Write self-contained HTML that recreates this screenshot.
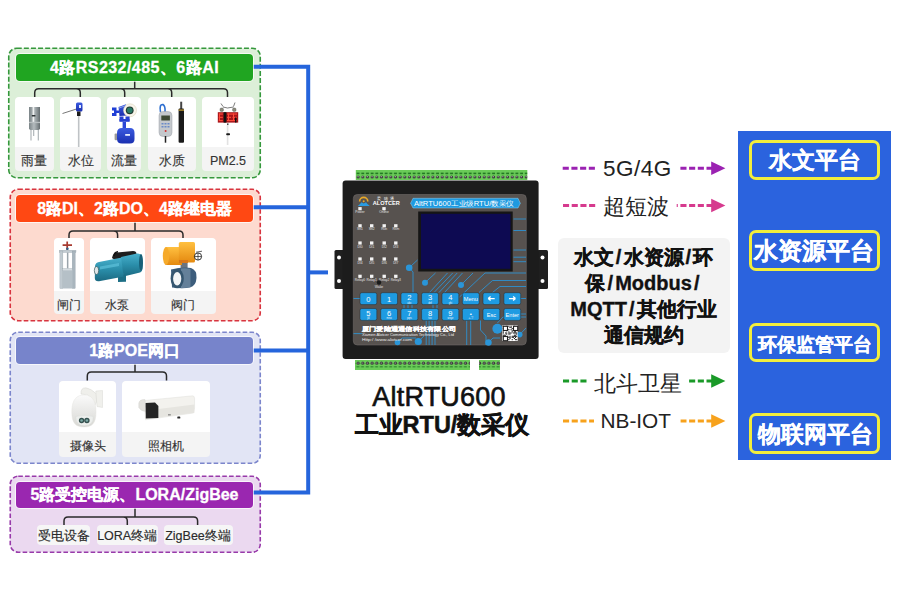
<!DOCTYPE html>
<html><head><meta charset="utf-8">
<style>
*{box-sizing:border-box}
html,body{margin:0;padding:0}
body{width:900px;height:600px;position:relative;overflow:hidden;background:#fff;font-family:"Liberation Sans",sans-serif}
.a{position:absolute}
.hd{position:absolute;left:16px;width:237px;height:27px;border-radius:4px;color:#fff;font-weight:bold;font-size:16px;text-align:center;line-height:27px;box-shadow:0 0 0 1px rgba(255,255,255,.7);white-space:nowrap;-webkit-text-stroke:0.3px #fff}
.card{position:absolute;background:#f4f4f4;border-radius:4px;overflow:hidden}
.card .im{position:absolute;left:0;right:0;top:0;background:#fff;border-radius:4px 4px 0 0}
.card .lb{position:absolute;left:0;right:0;bottom:0;text-align:center;color:#333;font-size:12.5px;white-space:nowrap;-webkit-text-stroke:0.15px #333}
.pill{position:absolute;background:#f6f6f6;border-radius:4px;color:#2a2a2a;font-size:12.5px;text-align:center;line-height:22px;height:20.5px;top:524.8px;white-space:nowrap;-webkit-text-stroke:0.15px #2a2a2a}
.sl{margin:0 2.1px}
.arr{position:absolute;font-size:21px;color:#222;white-space:nowrap}
.plat{position:absolute;left:748.5px;width:131.5px;border:3.2px solid #f2ee3c;border-radius:7px;color:#fff;font-weight:bold;text-align:center;white-space:nowrap;-webkit-text-stroke:0.25px #fff}
</style></head>
<body>
<svg class="a" style="left:0;top:0" width="900" height="600">
  <!-- dashed containers -->
  <rect x="8.75" y="48.25" width="251.5" height="129.5" rx="8" fill="#dcefd8" stroke="#35983c" stroke-width="1.6" stroke-dasharray="5 2.1"/>
  <rect x="10.25" y="189.25" width="250" height="131.5" rx="8" fill="#fddacf" stroke="#d8343f" stroke-width="1.6" stroke-dasharray="4.6 2.2"/>
  <rect x="10.25" y="332.25" width="250" height="131" rx="8" fill="#e2e5f5" stroke="#7c86cc" stroke-width="1.6" stroke-dasharray="4.6 2.2"/>
  <rect x="10.25" y="476.25" width="250" height="76" rx="8" fill="#ebd9f0" stroke="#983aaa" stroke-width="1.6" stroke-dasharray="4.6 2.2"/>
  <!-- trees -->
  <g fill="none" stroke="#2a2a2a" stroke-width="1.5">
    <path d="M134.7 81.0 V88.7 M34.7 97.0 V92.7 Q34.7 88.7 38.7 88.7 H223.5 Q227.5 88.7 227.5 92.7 V97.0 M76.3 88.7 Q80.3 88.7 80.3 92.7 V97.0 M120.7 88.7 Q124.7 88.7 124.7 92.7 V97.0 M167.7 88.7 Q171.7 88.7 171.7 92.7 V97.0"/>
    <path d="M135.0 222.0 V231.0 M69.0 238.0 V235.0 Q69.0 231.0 73.0 231.0 H179.0 Q183.0 231.0 183.0 235.0 V238.0 M113.6 231.0 Q117.6 231.0 117.6 235.0 V238.0"/>
    <path d="M135.0 364.0 V372.0 M87.3 380.5 V376.0 Q87.3 372.0 91.3 372.0 H162.5 Q166.5 372.0 166.5 376.0 V380.5"/>
    <path d="M135.0 508.0 V517.0 M64.0 525.0 V521.0 Q64.0 517.0 68.0 517.0 H193.6 Q197.6 517.0 197.6 521.0 V525.0 M123.3 517.0 Q127.3 517.0 127.3 521.0 V525.0"/>
  </g>
  <!-- blue connector -->
  <g fill="none" stroke="#2565dc" stroke-width="4">
    <path d="M253 66.7 H308.2 V492.5 H253"/>
    <path d="M253 207.3 H308.2"/>
    <path d="M253 350.5 H308.2"/>
    <path d="M308.2 272.4 H328"/>
  </g>
</svg>

<!-- headers -->
<div class="hd" style="top:54px;background:#20a521;letter-spacing:0.45px">4路RS232/485、6路AI</div>
<div class="hd" style="top:195px;background:#ff4813">8路DI、2路DO、4路继电器</div>
<div class="hd" style="top:337px;background:#7784cb">1路POE网口</div>
<div class="hd" style="top:482px;height:26px;line-height:26px;background:#9a27b0">5路受控电源、LORA/ZigBee</div>

<!-- green cards -->
<div class="card" style="left:15px;top:97px;width:38.5px;height:74px"><div class="im" style="height:50px"></div><div class="lb" style="height:24px;line-height:29px">雨量</div></div>
<div class="card" style="left:60px;top:97px;width:41px;height:74px"><div class="im" style="height:50px"></div><div class="lb" style="height:24px;line-height:29px">水位</div></div>
<div class="card" style="left:107px;top:97px;width:34px;height:74px"><div class="im" style="height:50px"></div><div class="lb" style="height:24px;line-height:29px">流量</div></div>
<div class="card" style="left:147.5px;top:97px;width:48.5px;height:74px"><div class="im" style="height:50px"></div><div class="lb" style="height:24px;line-height:29px">水质</div></div>
<div class="card" style="left:202px;top:97px;width:52px;height:74px"><div class="im" style="height:50px"></div><div class="lb" style="height:24px;line-height:29px">PM2.5</div></div>

<!-- red cards -->
<div class="card" style="left:54px;top:238px;width:30px;height:76px"><div class="im" style="height:52.5px"></div><div class="lb" style="height:23.5px;line-height:28px;font-size:11.8px">闸门</div></div>
<div class="card" style="left:89.5px;top:238px;width:55.5px;height:76px"><div class="im" style="height:52.5px"></div><div class="lb" style="height:23.5px;line-height:28px;font-size:11.8px">水泵</div></div>
<div class="card" style="left:151px;top:238px;width:64.5px;height:76px"><div class="im" style="height:52.5px"></div><div class="lb" style="height:23.5px;line-height:28px;font-size:11.8px">阀门</div></div>

<!-- lavender cards -->
<div class="card" style="left:59px;top:380.5px;width:57px;height:76.5px"><div class="im" style="height:51.5px"></div><div class="lb" style="height:25px;line-height:29px;font-size:11.5px">摄像头</div></div>
<div class="card" style="left:122px;top:380.5px;width:88px;height:76.5px"><div class="im" style="height:51.5px"></div><div class="lb" style="height:25px;line-height:29px;font-size:11.5px">照相机</div></div>

<!-- purple pills -->
<div class="pill" style="left:37px;width:53.2px">受电设备</div>
<div class="pill" style="left:96.5px;width:61.4px">LORA终端</div>
<div class="pill" style="left:163.5px;width:69px">ZigBee终端</div>

<!-- products -->
<svg class="a" style="left:0;top:0" width="900" height="600" viewBox="0 0 900 600">
<defs>
<linearGradient id="gmetal" x1="0" x2="1" y1="0" y2="0"><stop offset="0" stop-color="#8c9396"/><stop offset="0.35" stop-color="#d9dde0"/><stop offset="0.7" stop-color="#9aa1a5"/><stop offset="1" stop-color="#6f7679"/></linearGradient>
<linearGradient id="gblue" x1="0" x2="0" y1="0" y2="1"><stop offset="0" stop-color="#3b5be0"/><stop offset="1" stop-color="#1a2fb0"/></linearGradient>
<linearGradient id="gteal" x1="0" x2="0" y1="0" y2="1"><stop offset="0" stop-color="#3aa0c0"/><stop offset="1" stop-color="#14607e"/></linearGradient>
<linearGradient id="gorange" x1="0" x2="0" y1="0" y2="1"><stop offset="0" stop-color="#ffc040"/><stop offset="1" stop-color="#e58a10"/></linearGradient>
<linearGradient id="gwhite" x1="0" x2="0" y1="0" y2="1"><stop offset="0" stop-color="#fafafa"/><stop offset="1" stop-color="#d8d8d4"/></linearGradient>
</defs>
<!-- rain gauge -->
<linearGradient id="grain" x1="0" x2="1" y1="0" y2="0"><stop offset="0" stop-color="#7a8386"/><stop offset="0.45" stop-color="#b4bbbe"/><stop offset="0.75" stop-color="#8a9295"/><stop offset="1" stop-color="#646c6f"/></linearGradient>
<path d="M31 140.5 V128 M33.7 136 V128 M38.3 140.5 V128" stroke="#a9b0b3" stroke-width="1.1"/>
<path d="M29 107 H40 V128.5 Q39.5 130 38 130 H31 Q29.5 130 29 128.5 Z" fill="url(#grain)"/>
<rect x="32.6" y="107" width="1.6" height="15.5" fill="#eef0f0"/>
<rect x="31.8" y="115" width="3.6" height="1.5" fill="#2e3436"/>
<rect x="29" y="121.8" width="11" height="1.3" fill="#b9bfc1"/>
<!-- water level -->
<path d="M62.5 113.5 L76.5 109" stroke="#777" stroke-width="1"/>
<rect x="76" y="102.5" width="6.5" height="9" rx="1.5" fill="url(#gblue)"/>
<rect x="79" y="105" width="2" height="3" fill="#e0e8ff"/>
<rect x="77" y="111.5" width="3.5" height="4.5" fill="#1c1c1c"/>
<rect x="77.9" y="116" width="1.6" height="31" fill="#bfc3c6"/>
<!-- flow meter -->
<path d="M112 107.5 H116.5 V110.5 H119 V113 H116.5 V116 H112 V113 H114 V110.5 H112 Z" fill="#1f3fd6"/>
<path d="M118.5 107 L126 104.2 L128 115.5 L119.5 116 Z" fill="url(#gblue)"/>
<path d="M119 108 L126 105.5" stroke="#9fb2f0" stroke-width="0.8"/>
<circle cx="130" cy="110.3" r="6.5" fill="#f7f4ea" stroke="#d8cfb0" stroke-width="0.5"/>
<circle cx="129.7" cy="110.3" r="3.9" fill="#213a30"/><circle cx="129.7" cy="110.3" r="2.8" fill="#2a7a66"/>
<path d="M119.5 116.5 H123.5 V121.5 H119.5 Z M125.5 116.5 H129.6 V121.5 H125.5 Z" fill="#2540d0"/>
<rect x="119.5" y="119" width="10" height="2.6" fill="#2540d0"/>
<rect x="122.6" y="121.5" width="3.4" height="7" fill="#2a46d8"/>
<rect x="114.6" y="133.6" width="2.8" height="6.6" rx="1" fill="#9a9a9a"/>
<path d="M117 133 Q117 128 122 128 H130 Q134.5 128 134.5 133 V139 Q134.5 143.6 130 143.6 H122 Q117 143.6 117 139 Z" fill="url(#gblue)"/>
<rect x="125.2" y="134" width="4.8" height="1.8" fill="#e8eeff"/>
<!-- water quality -->
<path d="M160.5 112 Q159 104 163 104.5 Q165.5 106 165 112" fill="none" stroke="#2e6fd0" stroke-width="1.6"/>
<rect x="159" y="111.5" width="13" height="25" rx="4" fill="#c4c8cc" stroke="#9ea3a8" stroke-width="0.5"/>
<rect x="161.3" y="115.5" width="8.6" height="5" fill="#3e4a34"/>
<g fill="#6a8ac8"><rect x="161.5" y="123" width="2" height="1.5"/><rect x="164.5" y="123" width="2" height="1.5"/><rect x="167.5" y="123" width="2" height="1.5"/><rect x="161.5" y="126" width="2" height="1.5"/><rect x="164.5" y="126" width="2" height="1.5"/><rect x="167.5" y="126" width="2" height="1.5"/></g>
<circle cx="165.6" cy="131" r="1" fill="#d03030"/>
<path d="M165.5 136 V142.7" stroke="#222" stroke-width="1.5"/>
<path d="M181.2 101.7 V109" stroke="#444" stroke-width="2"/>
<rect x="178.6" y="108.5" width="5.4" height="34.2" rx="1" fill="#1a1a1a"/>
<rect x="178.6" y="109.5" width="5.4" height="1.2" fill="#c9a030"/>
<!-- pm2.5 -->
<path d="M221 103.5 L223 106.5 M235 102.5 L233.5 106.5 M223 107 L227.5 108 L233.5 107" fill="none" stroke="#444" stroke-width="0.7"/>
<rect x="220" y="108" width="3.4" height="3.4" rx="1.2" fill="#8c8c7c" stroke="#555" stroke-width="0.4"/>
<rect x="232.6" y="108" width="3.4" height="3.4" rx="1.2" fill="#8c8c7c" stroke="#555" stroke-width="0.4"/>
<rect x="217.8" y="112.2" width="20.4" height="10.4" fill="#a8141a"/>
<g fill="#ff4a3a"><rect x="218.8" y="113.5" width="4" height="1.1"/><rect x="218.8" y="116.8" width="4" height="1.1"/><rect x="218.8" y="120" width="4" height="1.1"/><rect x="227" y="113.5" width="10" height="1.1"/><rect x="227" y="116.8" width="4" height="1.1"/><rect x="232.5" y="116.8" width="4.5" height="1.1"/><rect x="227" y="120" width="10" height="1.1"/><rect x="219" y="113.5" width="1" height="7.5"/><rect x="228" y="113.5" width="1" height="7.5"/><rect x="233" y="113.5" width="1" height="7.5"/></g>
<rect x="223.6" y="112.2" width="2.8" height="10.4" fill="#111"/>
<rect x="235" y="117.5" width="1.5" height="5" fill="#111"/>
<rect x="227" y="123.5" width="1.5" height="1.3" fill="#222"/>
<rect x="226.8" y="125" width="1.6" height="20" fill="#e2e2e2"/>
<rect x="226.2" y="133.3" width="3.8" height="1.9" rx="0.8" fill="#1a1a1a"/>
<!-- gate -->
<path d="M62.6 245.2 H72 M67.2 241.6 V250" stroke="#a83a30" stroke-width="1.7"/>
<circle cx="67.4" cy="248.8" r="1.3" fill="#2f5f8a"/>
<rect x="59.4" y="250.2" width="16.6" height="2.3" fill="#c3ccd2" stroke="#8d99a1" stroke-width="0.3"/>
<rect x="59.9" y="251" width="3" height="37.5" fill="#c0cad0" stroke="#8d99a1" stroke-width="0.3"/>
<rect x="72.2" y="251" width="3" height="37.5" fill="#a9b5bd" stroke="#8d99a1" stroke-width="0.3"/>
<rect x="66.9" y="252.5" width="1.5" height="16" fill="#9aa4ab"/>
<rect x="62.5" y="268.5" width="9.9" height="2" fill="#d6dde1" stroke="#8d99a1" stroke-width="0.3"/>
<rect x="62.5" y="270.5" width="9.9" height="18" fill="#b5c0c7"/>
<!-- pump -->
<linearGradient id="gpump" x1="0" x2="0" y1="0" y2="1"><stop offset="0" stop-color="#48b0cc"/><stop offset="0.5" stop-color="#2a8eaa"/><stop offset="1" stop-color="#1b6a82"/></linearGradient>
<path d="M112 258 Q113 252.5 117 252.5 L133 251 Q136.5 251 136.5 254 V259 L118 262 Z" fill="#1e1e1e"/>
<path d="M114 256 Q114.5 252 118 251.8" fill="none" stroke="#111" stroke-width="1.6"/>
<path d="M118 275.5 L126 274 V281.8 L118 282 Z" fill="#1d6f86"/>
<path d="M95 266 Q95.5 262.5 99 262 L122 257.5 L124 276.5 L99 281.2 Q95 281.7 94.8 278 Z" fill="url(#gpump)"/>
<path d="M121 257 L137 253.5 Q142 253 142.3 258 L142.5 268 Q142.5 272 139 272.8 L123.5 276.5 Z" fill="url(#gpump)"/>
<ellipse cx="141" cy="262.5" rx="2" ry="8.5" fill="#176078"/>
<path d="M100 266.5 L119 263 V266 L100 269.5 Z" fill="#5cc0da" opacity="0.7"/>
<ellipse cx="96.5" cy="270.5" rx="2.2" ry="4" fill="#dfe6e8" stroke="#244" stroke-width="0.6"/>
<!-- valve -->
<rect x="180.6" y="261" width="7" height="7" fill="#6a7480"/>
<path d="M171 269.5 Q183 266.5 191 268 Q197 270 196.5 278 Q196 286 190 287.5 Q183 289 172 287.5 Z" fill="#3c5d7c"/>
<path d="M181 268.5 Q187 268 190.5 269 V287 Q187 288 181 288.3 Z" fill="#7f98ad" opacity="0.6"/>
<ellipse cx="177.2" cy="278.5" rx="6.6" ry="9.8" fill="#35566f"/>
<ellipse cx="177.2" cy="278.8" rx="4.1" ry="6.8" fill="#f3f5f6"/>
<rect x="165.5" y="247" width="16.5" height="18" fill="url(#gorange)"/>
<ellipse cx="166" cy="256" rx="3.2" ry="9" fill="#f6aa2a"/>
<rect x="178.8" y="242" width="16.2" height="20.5" rx="1.5" fill="url(#gorange)"/>
<rect x="179" y="260" width="9" height="3" fill="#d8781a"/>
<circle cx="198" cy="256.5" r="3.6" fill="none" stroke="#222" stroke-width="0.9"/>
<path d="M194.5 256.5 H201.5 M198 253 V260 M196 252.2 L202 251.2" stroke="#222" stroke-width="0.7"/>
<!-- dome camera -->
<path d="M81 394 Q80.5 387.5 86 387.8 Q91 388.5 96.5 394 L97 401 L95 405 L90 397 Q87 393 85 394.5 Z" fill="#efefeb" stroke="#d0d0cb" stroke-width="0.4"/>
<path d="M95.8 391 L102.5 390.5 V407.5 L97 406.5 Z" fill="#f0f0ec" stroke="#d2d2cd" stroke-width="0.4"/>
<path d="M71.8 412 C71.8 399 77 395 84 395 C91 395 96 399 96 412 C96 424 91.5 427 84 427 C76.5 427 71.8 424 71.8 412Z" fill="url(#gwhite)" stroke="#e0e0dc" stroke-width="0.4"/>
<path d="M75.8 416.5 Q84 414 93.3 416.5 Q93.5 425.8 84.5 425.8 Q75.8 425.8 75.8 416.5 Z" fill="#eceeec" stroke="#d0d2d0" stroke-width="0.3"/>
<circle cx="81.6" cy="420.5" r="2.7" fill="#35514f"/><circle cx="86.9" cy="420.5" r="2.7" fill="#35514f"/>
<circle cx="81.6" cy="420.5" r="1.3" fill="#7aa8a4"/><circle cx="86.9" cy="420.5" r="1.3" fill="#7aa8a4"/>
<!-- box camera -->
<path d="M144.5 400.5 L192.7 395.8 Q194.6 396 194.6 398.5 V408 L193.6 413 L145.5 419.8 Z" fill="#f3f2ee" stroke="#d9d8d3" stroke-width="0.4"/>
<path d="M158.5 409 L194.3 404.5 V412.8 L158.5 417.6 Z" fill="#e6e5e0"/>
<path d="M138.8 403 Q139.5 399.3 145 399.6 L146.2 411.5 Q141 411.5 138.8 407.5 Z" fill="#e2e1dc" stroke="#cfcec9" stroke-width="0.4"/>
<path d="M145.6 403 L155 402.5 L158.4 406 V418 L145.8 418.4 Z" fill="#242424"/>
<rect x="168" y="414.3" width="2.8" height="1.1" fill="#777"/>
<rect x="177.3" y="416.6" width="3" height="2" rx="0.6" fill="#2a2a2a"/>
</svg>

<!-- /products -->
<!-- device -->
<svg class="a" style="left:0;top:0" width="900" height="600" viewBox="0 0 900 600">
<defs><pattern id="term" x="355.8" y="170" width="4.67" height="20" patternUnits="userSpaceOnUse"><rect x="0.8" y="2.6" width="3" height="1.6" fill="#237a23"/><circle cx="2.3" cy="7" r="1.6" fill="#3a3a3a"/><circle cx="2.1" cy="6.7" r="0.6" fill="#bbb"/></pattern><pattern id="termb" x="355.8" y="0" width="4.67" height="20" patternUnits="userSpaceOnUse"><circle cx="2.3" cy="3.2" r="1.6" fill="#3a3a3a"/><circle cx="2.1" cy="3" r="0.6" fill="#bbb"/><rect x="0.6" y="6.2" width="3" height="1.2" fill="#2e8a2e"/></pattern></defs>
<rect x="355.8" y="170" width="171.5" height="10" fill="#6acb58"/>
<rect x="355.8" y="170" width="171.5" height="10" fill="url(#term)"/>
<rect x="355" y="360" width="115" height="10" fill="#6acb58"/><rect x="355" y="360" width="115" height="10" fill="url(#termb)"/>
<rect x="479" y="360" width="21" height="10" fill="#6acb58"/><rect x="479" y="360" width="21" height="10" fill="url(#termb)"/>
<rect x="334.5" y="250" width="10" height="39" rx="1.5" fill="#1f1f1f"/>
<circle cx="339" cy="257.5" r="2" fill="#fff"/><circle cx="339" cy="281" r="2" fill="#fff"/>
<rect x="537" y="250" width="11" height="39" rx="1.5" fill="#1f1f1f"/>
<circle cx="542.5" cy="257.5" r="2" fill="#fff"/><circle cx="542.5" cy="281" r="2" fill="#fff"/>
<rect x="342.6" y="180.4" width="196" height="178.6" rx="3" fill="#1c1c1c"/>
<rect x="353.3" y="194.5" width="173" height="150.5" rx="4" fill="#57524f" stroke="#6e6a68" stroke-width="0.6"/>
<g fill="none" stroke="#2a95d8" stroke-width="0.85"><path d="M513.5 219 H526"/><path d="M513.5 230.5 H526"/><path d="M513.5 250 H526"/><path d="M513.5 257.2 H526"/><path d="M513.5 261.7 H526"/><path d="M409.2 267.7 L417.5 260"/><path d="M409.2 267.7 L413 272 V292.5"/><path d="M425 282.7 L435.5 273"/><path d="M429.5 292.5 L447.5 273"/><path d="M434 292.5 L452.7 273"/><path d="M439 292.5 L457.2 273"/><path d="M444.5 292.5 L462.5 273"/><path d="M461 285 L473 273"/><path d="M459.5 297 L485 273 H526"/><path d="M479 292.5 L492.5 280.5 H526"/><path d="M492.5 292.5 L500 286.5 H526"/><path d="M353.5 298.5 H360"/><path d="M520.5 298.5 H526"/><path d="M520.5 314 H526"/><path d="M426.2 320.5 V345"/><path d="M429.1 320.5 V345"/><path d="M432.1 320.5 V345"/><path d="M435 320.5 V345"/><path d="M466.7 320.5 V345"/><path d="M470.7 320.5 V345"/><path d="M480.5 320.5 V330 L486 336 V345"/><path d="M404 304.6 V308.5"/><path d="M408 304.6 V308.5"/><path d="M412 304.6 V308.5"/><path d="M433 304.6 V308.5"/><path d="M437 304.6 V308.5"/><path d="M353.5 333.6 H362"/><path d="M397.5 342.5 L402 338 H416"/><path d="M418.3 341.5 L424 336"/><path d="M488.5 342.5 L493 338 H500"/><path d="M519.7 334.6 L526 328"/><path d="M497.4 323 L503 317 H526"/></g>
<circle cx="409.2" cy="267.7" r="3.3" fill="#2a95d8"/><circle cx="425" cy="282.7" r="3" fill="#2a95d8"/><circle cx="461" cy="285" r="3" fill="#2a95d8"/><circle cx="497.4" cy="328.7" r="5" fill="#2a95d8"/><circle cx="519.7" cy="334.6" r="2.8" fill="#2a95d8"/><circle cx="418.3" cy="341.5" r="3.6" fill="#2a95d8"/><circle cx="397.5" cy="342.5" r="2.8" fill="#2a95d8"/><circle cx="488.5" cy="342.5" r="3.2" fill="#2a95d8"/>
<path d="M359.6 201.5 A4.1 4.1 0 0 1 367.8 201.5" fill="none" stroke="#e8a828" stroke-width="1.6"/><circle cx="363.7" cy="201.3" r="1" fill="#e8a828"/>
<path d="M357.8 206 Q360 204.5 361.5 202.3 L363.7 203.6 L366 202.3 Q367.5 204.5 369.8 206 Z" fill="#2a9be0"/>
<text x="372.7" y="205" font-family="Liberation Sans" font-size="5.3" font-weight="bold" fill="#fff" textLength="27" lengthAdjust="spacingAndGlyphs">ALOTCER</text>
<text x="377" y="199.5" font-family="Liberation Sans" font-size="4" fill="#fff" letter-spacing="2.5">爱陆通</text>
<rect x="358.3" y="207.1" width="3.4" height="3.2" fill="#f4f4f4"/>
<text x="360.0" y="213.3" font-family="Liberation Sans" font-size="3.3" fill="#e4e4e4" text-anchor="middle">Power</text>
<rect x="382.3" y="207.1" width="3.4" height="3.2" fill="#f4f4f4"/>
<text x="384.0" y="213.3" font-family="Liberation Sans" font-size="3.3" fill="#e4e4e4" text-anchor="middle">Online</text>
<rect x="358.3" y="224.2" width="3.4" height="3.2" fill="#f4f4f4"/>
<text x="360.0" y="230.4" font-family="Liberation Sans" font-size="3.3" fill="#e4e4e4" text-anchor="middle">Sn1</text>
<rect x="370.0" y="224.2" width="3.4" height="3.2" fill="#f4f4f4"/>
<text x="371.7" y="230.4" font-family="Liberation Sans" font-size="3.3" fill="#e4e4e4" text-anchor="middle">Sn2</text>
<rect x="382.5" y="224.2" width="3.4" height="3.2" fill="#f4f4f4"/>
<text x="384.2" y="230.4" font-family="Liberation Sans" font-size="3.3" fill="#e4e4e4" text-anchor="middle">Run</text>
<rect x="394.1" y="224.2" width="3.4" height="3.2" fill="#f4f4f4"/>
<text x="395.8" y="230.4" font-family="Liberation Sans" font-size="3.3" fill="#e4e4e4" text-anchor="middle">Rsm</text>
<rect x="358.3" y="241.4" width="3.4" height="3.2" fill="#f4f4f4"/>
<text x="360.0" y="247.6" font-family="Liberation Sans" font-size="3.3" fill="#e4e4e4" text-anchor="middle">DI0</text>
<rect x="370.0" y="241.4" width="3.4" height="3.2" fill="#f4f4f4"/>
<text x="371.7" y="247.6" font-family="Liberation Sans" font-size="3.3" fill="#e4e4e4" text-anchor="middle">DI1</text>
<rect x="382.5" y="241.4" width="3.4" height="3.2" fill="#f4f4f4"/>
<text x="384.2" y="247.6" font-family="Liberation Sans" font-size="3.3" fill="#e4e4e4" text-anchor="middle">DI2</text>
<rect x="394.1" y="241.4" width="3.4" height="3.2" fill="#f4f4f4"/>
<text x="395.8" y="247.6" font-family="Liberation Sans" font-size="3.3" fill="#e4e4e4" text-anchor="middle">DI3</text>
<rect x="358.3" y="257.4" width="3.4" height="3.2" fill="#f4f4f4"/>
<text x="360.0" y="263.6" font-family="Liberation Sans" font-size="3.3" fill="#e4e4e4" text-anchor="middle">DI4</text>
<rect x="370.0" y="257.4" width="3.4" height="3.2" fill="#f4f4f4"/>
<text x="371.7" y="263.6" font-family="Liberation Sans" font-size="3.3" fill="#e4e4e4" text-anchor="middle">DI5</text>
<rect x="382.5" y="257.4" width="3.4" height="3.2" fill="#f4f4f4"/>
<text x="384.2" y="263.6" font-family="Liberation Sans" font-size="3.3" fill="#e4e4e4" text-anchor="middle">DI6</text>
<rect x="394.1" y="257.4" width="3.4" height="3.2" fill="#f4f4f4"/>
<text x="395.8" y="263.6" font-family="Liberation Sans" font-size="3.3" fill="#e4e4e4" text-anchor="middle">DI7</text>
<rect x="358.3" y="274.7" width="3.4" height="3.2" fill="#f4f4f4"/>
<text x="360.0" y="280.9" font-family="Liberation Sans" font-size="3.3" fill="#e4e4e4" text-anchor="middle">Relay0</text>
<rect x="370.0" y="274.7" width="3.4" height="3.2" fill="#f4f4f4"/>
<text x="371.7" y="280.9" font-family="Liberation Sans" font-size="3.3" fill="#e4e4e4" text-anchor="middle">Relay1</text>
<rect x="382.5" y="274.7" width="3.4" height="3.2" fill="#f4f4f4"/>
<text x="384.2" y="280.9" font-family="Liberation Sans" font-size="3.3" fill="#e4e4e4" text-anchor="middle">Relay2</text>
<rect x="394.1" y="274.7" width="3.4" height="3.2" fill="#f4f4f4"/>
<text x="395.8" y="280.9" font-family="Liberation Sans" font-size="3.3" fill="#e4e4e4" text-anchor="middle">Relay3</text>
<circle cx="379" cy="282.5" r="2.2" fill="#1a1a1a"/>
<text x="379" y="288" font-family="Liberation Sans" font-size="3.3" fill="#e4e4e4" text-anchor="middle">Wake</text>
<path d="M410.6 203.2 L413 198.3 H518 L520.3 203.2 L518 208 H413 Z" fill="#1e9ae0" stroke="#8fd0f5" stroke-width="0.5"/>
<text x="414" y="206" font-family="Liberation Sans" font-size="7" fill="#fff" textLength="100" lengthAdjust="spacingAndGlyphs">AltRTU600工业级RTU/数采仪</text>
<rect x="418.2" y="211.5" width="94.5" height="60" fill="#151515"/>
<rect x="421" y="213.8" width="89.5" height="55" fill="#0d0a52"/>
<rect x="360.0" y="292.7" width="16.8" height="11.9" rx="1.8" fill="#1e9be2" stroke="#2a2a2a" stroke-width="0.5"/>
<text x="368.4" y="301.9" font-family="Liberation Sans" font-size="7.6" fill="#fff" text-anchor="middle">0</text>
<rect x="380.7" y="292.7" width="16.8" height="11.9" rx="1.8" fill="#1e9be2" stroke="#2a2a2a" stroke-width="0.5"/>
<text x="389.1" y="301.9" font-family="Liberation Sans" font-size="7.6" fill="#fff" text-anchor="middle">1</text>
<rect x="401.0" y="292.7" width="16.8" height="11.9" rx="1.8" fill="#1e9be2" stroke="#2a2a2a" stroke-width="0.5"/>
<text x="409.4" y="300.3" font-family="Liberation Sans" font-size="7.6" fill="#fff" text-anchor="middle">2</text>
<text x="409.4" y="303.5" font-family="Liberation Sans" font-size="2.6" fill="#e8f4ff" text-anchor="middle">abc</text>
<rect x="421.6" y="292.7" width="16.8" height="11.9" rx="1.8" fill="#1e9be2" stroke="#2a2a2a" stroke-width="0.5"/>
<text x="430.0" y="300.3" font-family="Liberation Sans" font-size="7.6" fill="#fff" text-anchor="middle">3</text>
<text x="430.0" y="303.5" font-family="Liberation Sans" font-size="2.6" fill="#e8f4ff" text-anchor="middle">def</text>
<rect x="442.0" y="292.7" width="16.8" height="11.9" rx="1.8" fill="#1e9be2" stroke="#2a2a2a" stroke-width="0.5"/>
<text x="450.4" y="300.3" font-family="Liberation Sans" font-size="7.6" fill="#fff" text-anchor="middle">4</text>
<text x="450.4" y="303.5" font-family="Liberation Sans" font-size="2.6" fill="#e8f4ff" text-anchor="middle">ghi</text>
<rect x="462.4" y="292.7" width="16.8" height="11.9" rx="1.8" fill="#1e9be2" stroke="#2a2a2a" stroke-width="0.5"/>
<text x="470.8" y="301.0" font-family="Liberation Sans" font-size="5.6" fill="#fff" text-anchor="middle">Menu</text>
<rect x="483.0" y="292.7" width="16.8" height="11.9" rx="1.8" fill="#1e9be2" stroke="#2a2a2a" stroke-width="0.5"/>
<path d="M488.2 298.6 h6.5 M488.2 298.6 l2.4 -2 M488.2 298.6 l2.4 2" stroke="#fff" stroke-width="1.3" fill="none"/>
<rect x="503.9" y="292.7" width="16.8" height="11.9" rx="1.8" fill="#1e9be2" stroke="#2a2a2a" stroke-width="0.5"/>
<path d="M515.5 298.6 h-6.5 M515.5 298.6 l-2.4 -2 M515.5 298.6 l-2.4 2" stroke="#fff" stroke-width="1.3" fill="none"/>
<rect x="360.0" y="308.5" width="16.8" height="11.9" rx="1.8" fill="#1e9be2" stroke="#2a2a2a" stroke-width="0.5"/>
<text x="368.4" y="316.1" font-family="Liberation Sans" font-size="7.6" fill="#fff" text-anchor="middle">5</text>
<text x="368.4" y="319.3" font-family="Liberation Sans" font-size="2.6" fill="#e8f4ff" text-anchor="middle">jkl</text>
<rect x="380.7" y="308.5" width="16.8" height="11.9" rx="1.8" fill="#1e9be2" stroke="#2a2a2a" stroke-width="0.5"/>
<text x="389.1" y="316.1" font-family="Liberation Sans" font-size="7.6" fill="#fff" text-anchor="middle">6</text>
<text x="389.1" y="319.3" font-family="Liberation Sans" font-size="2.6" fill="#e8f4ff" text-anchor="middle">mno</text>
<rect x="401.0" y="308.5" width="16.8" height="11.9" rx="1.8" fill="#1e9be2" stroke="#2a2a2a" stroke-width="0.5"/>
<text x="409.4" y="316.1" font-family="Liberation Sans" font-size="7.6" fill="#fff" text-anchor="middle">7</text>
<text x="409.4" y="319.3" font-family="Liberation Sans" font-size="2.6" fill="#e8f4ff" text-anchor="middle">pqrs</text>
<rect x="421.6" y="308.5" width="16.8" height="11.9" rx="1.8" fill="#1e9be2" stroke="#2a2a2a" stroke-width="0.5"/>
<text x="430.0" y="316.1" font-family="Liberation Sans" font-size="7.6" fill="#fff" text-anchor="middle">8</text>
<text x="430.0" y="319.3" font-family="Liberation Sans" font-size="2.6" fill="#e8f4ff" text-anchor="middle">tuv</text>
<rect x="442.0" y="308.5" width="16.8" height="11.9" rx="1.8" fill="#1e9be2" stroke="#2a2a2a" stroke-width="0.5"/>
<text x="450.4" y="316.1" font-family="Liberation Sans" font-size="7.6" fill="#fff" text-anchor="middle">9</text>
<text x="450.4" y="319.3" font-family="Liberation Sans" font-size="2.6" fill="#e8f4ff" text-anchor="middle">wxyz</text>
<rect x="462.4" y="308.5" width="16.8" height="11.9" rx="1.8" fill="#1e9be2" stroke="#2a2a2a" stroke-width="0.5"/>
<text x="470.8" y="316.1" font-family="Liberation Sans" font-size="6" fill="#fff" text-anchor="middle">&#8226;</text>
<text x="470.8" y="319.3" font-family="Liberation Sans" font-size="3" fill="#e8f4ff" text-anchor="middle">+-*/</text>
<rect x="483.0" y="308.5" width="16.8" height="11.9" rx="1.8" fill="#1e9be2" stroke="#2a2a2a" stroke-width="0.5"/>
<text x="491.4" y="316.8" font-family="Liberation Sans" font-size="5.6" fill="#fff" text-anchor="middle">Esc</text>
<rect x="503.9" y="308.5" width="16.8" height="11.9" rx="1.8" fill="#1e9be2" stroke="#2a2a2a" stroke-width="0.5"/>
<text x="512.3" y="316.8" font-family="Liberation Sans" font-size="5.6" fill="#fff" text-anchor="middle">Enter</text>
<text x="362" y="331" font-family="Liberation Sans" font-size="6.4" font-weight="bold" fill="#fff" stroke="#fff" stroke-width="0.25" textLength="94" lengthAdjust="spacingAndGlyphs">厦门爱陆通通信科技有限公司</text>
<text x="362" y="336" font-family="Liberation Sans" font-size="3" fill="#eee" textLength="92" lengthAdjust="spacingAndGlyphs">Xiamen Alotcer Communication Technology Co., Ltd</text>
<text x="362" y="341.3" font-family="Liberation Sans" font-size="3.6" fill="#eee" textLength="50" lengthAdjust="spacingAndGlyphs">Http:/ /www.alotcer.com</text>
<rect x="502.3" y="325.3" width="15.4" height="15.7" fill="#fff"/>
<rect x="502.80" y="325.80" width="1.11" height="1.11" fill="#222"/>
<rect x="502.80" y="328.02" width="1.11" height="1.11" fill="#222"/>
<rect x="502.80" y="331.34" width="1.11" height="1.11" fill="#222"/>
<rect x="502.80" y="332.45" width="1.11" height="1.11" fill="#222"/>
<rect x="502.80" y="334.66" width="1.11" height="1.11" fill="#222"/>
<rect x="502.80" y="335.77" width="1.11" height="1.11" fill="#222"/>
<rect x="503.91" y="328.02" width="1.11" height="1.11" fill="#222"/>
<rect x="503.91" y="334.66" width="1.11" height="1.11" fill="#222"/>
<rect x="503.91" y="337.98" width="1.11" height="1.11" fill="#222"/>
<rect x="503.91" y="339.09" width="1.11" height="1.11" fill="#222"/>
<rect x="505.02" y="332.45" width="1.11" height="1.11" fill="#222"/>
<rect x="505.02" y="334.66" width="1.11" height="1.11" fill="#222"/>
<rect x="505.02" y="337.98" width="1.11" height="1.11" fill="#222"/>
<rect x="505.02" y="339.09" width="1.11" height="1.11" fill="#222"/>
<rect x="506.12" y="325.80" width="1.11" height="1.11" fill="#222"/>
<rect x="506.12" y="328.02" width="1.11" height="1.11" fill="#222"/>
<rect x="506.12" y="330.23" width="1.11" height="1.11" fill="#222"/>
<rect x="506.12" y="332.45" width="1.11" height="1.11" fill="#222"/>
<rect x="506.12" y="333.55" width="1.11" height="1.11" fill="#222"/>
<rect x="507.23" y="329.12" width="1.11" height="1.11" fill="#222"/>
<rect x="507.23" y="335.77" width="1.11" height="1.11" fill="#222"/>
<rect x="507.23" y="339.09" width="1.11" height="1.11" fill="#222"/>
<rect x="508.34" y="325.80" width="1.11" height="1.11" fill="#222"/>
<rect x="508.34" y="329.12" width="1.11" height="1.11" fill="#222"/>
<rect x="508.34" y="331.34" width="1.11" height="1.11" fill="#222"/>
<rect x="508.34" y="332.45" width="1.11" height="1.11" fill="#222"/>
<rect x="508.34" y="333.55" width="1.11" height="1.11" fill="#222"/>
<rect x="508.34" y="336.88" width="1.11" height="1.11" fill="#222"/>
<rect x="508.34" y="339.09" width="1.11" height="1.11" fill="#222"/>
<rect x="509.45" y="326.91" width="1.11" height="1.11" fill="#222"/>
<rect x="509.45" y="332.45" width="1.11" height="1.11" fill="#222"/>
<rect x="509.45" y="333.55" width="1.11" height="1.11" fill="#222"/>
<rect x="509.45" y="335.77" width="1.11" height="1.11" fill="#222"/>
<rect x="509.45" y="336.88" width="1.11" height="1.11" fill="#222"/>
<rect x="509.45" y="337.98" width="1.11" height="1.11" fill="#222"/>
<rect x="510.55" y="325.80" width="1.11" height="1.11" fill="#222"/>
<rect x="510.55" y="326.91" width="1.11" height="1.11" fill="#222"/>
<rect x="510.55" y="329.12" width="1.11" height="1.11" fill="#222"/>
<rect x="510.55" y="332.45" width="1.11" height="1.11" fill="#222"/>
<rect x="511.66" y="328.02" width="1.11" height="1.11" fill="#222"/>
<rect x="511.66" y="330.23" width="1.11" height="1.11" fill="#222"/>
<rect x="511.66" y="331.34" width="1.11" height="1.11" fill="#222"/>
<rect x="511.66" y="335.77" width="1.11" height="1.11" fill="#222"/>
<rect x="511.66" y="336.88" width="1.11" height="1.11" fill="#222"/>
<rect x="511.66" y="339.09" width="1.11" height="1.11" fill="#222"/>
<rect x="512.77" y="328.02" width="1.11" height="1.11" fill="#222"/>
<rect x="512.77" y="332.45" width="1.11" height="1.11" fill="#222"/>
<rect x="512.77" y="335.77" width="1.11" height="1.11" fill="#222"/>
<rect x="512.77" y="336.88" width="1.11" height="1.11" fill="#222"/>
<rect x="513.88" y="325.80" width="1.11" height="1.11" fill="#222"/>
<rect x="513.88" y="329.12" width="1.11" height="1.11" fill="#222"/>
<rect x="513.88" y="330.23" width="1.11" height="1.11" fill="#222"/>
<rect x="513.88" y="331.34" width="1.11" height="1.11" fill="#222"/>
<rect x="513.88" y="332.45" width="1.11" height="1.11" fill="#222"/>
<rect x="513.88" y="334.66" width="1.11" height="1.11" fill="#222"/>
<rect x="513.88" y="335.77" width="1.11" height="1.11" fill="#222"/>
<rect x="513.88" y="337.98" width="1.11" height="1.11" fill="#222"/>
<rect x="514.98" y="326.91" width="1.11" height="1.11" fill="#222"/>
<rect x="514.98" y="328.02" width="1.11" height="1.11" fill="#222"/>
<rect x="514.98" y="330.23" width="1.11" height="1.11" fill="#222"/>
<rect x="514.98" y="331.34" width="1.11" height="1.11" fill="#222"/>
<rect x="514.98" y="332.45" width="1.11" height="1.11" fill="#222"/>
<rect x="514.98" y="334.66" width="1.11" height="1.11" fill="#222"/>
<rect x="514.98" y="335.77" width="1.11" height="1.11" fill="#222"/>
<rect x="514.98" y="336.88" width="1.11" height="1.11" fill="#222"/>
<rect x="514.98" y="339.09" width="1.11" height="1.11" fill="#222"/>
<rect x="516.09" y="326.91" width="1.11" height="1.11" fill="#222"/>
<rect x="516.09" y="328.02" width="1.11" height="1.11" fill="#222"/>
<rect x="516.09" y="332.45" width="1.11" height="1.11" fill="#222"/>
<rect x="516.09" y="333.55" width="1.11" height="1.11" fill="#222"/>
<rect x="516.09" y="335.77" width="1.11" height="1.11" fill="#222"/>
<rect x="516.09" y="339.09" width="1.11" height="1.11" fill="#222"/>
<rect x="503.30" y="326.30" width="4.2" height="4.2" fill="#fff" stroke="#222" stroke-width="1.1"/>
<rect x="513.50" y="326.30" width="4.2" height="4.2" fill="#fff" stroke="#222" stroke-width="1.1"/>
<rect x="503.30" y="336.50" width="4.2" height="4.2" fill="#fff" stroke="#222" stroke-width="1.1"/>
</svg>
<!-- device title -->
<div class="a" style="left:334px;top:380.5px;width:210px;text-align:center;font-size:27px;color:#111;line-height:32px;-webkit-text-stroke:0.6px #111;letter-spacing:0.2px">AltRTU600</div>
<div class="a" style="left:337px;top:409.5px;width:210px;text-align:center;font-size:23.5px;font-weight:bold;color:#111;line-height:30px;white-space:nowrap;-webkit-text-stroke:0.55px #111">工业RTU/数采仪</div>

<!-- arrows -->
<svg class="a" style="left:0;top:0" width="900" height="600">
  <g stroke-width="3.1" stroke-dasharray="6.1 2.6" fill="none">
    <path d="M562.7 168.2 H595.5 M712.6 168.2 H677.8" stroke="#9b22b2"/>
    <path d="M563 205.5 H597 M712.6 205.5 H676.7" stroke="#d63a8e"/>
    <path d="M563 381 H587 M712.6 381 H687" stroke="#1a9a28"/>
    <path d="M563 421 H594 M712.6 421 H680.6" stroke="#f7a21c"/>
  </g>
  <path d="M711.2 161.4 L725.4 168.2 L711.2 175Z" fill="#9b22b2"/>
  <path d="M711.2 198.7 L725.4 205.5 L711.2 212.3Z" fill="#d63a8e"/>
  <path d="M711.2 374.2 L725.4 381 L711.2 387.8Z" fill="#1a9a28"/>
  <path d="M711.2 414.2 L725.4 421 L711.2 427.8Z" fill="#f7a21c"/>
</svg>
<div class="arr" style="left:603px;top:155.5px;font-size:22.5px;letter-spacing:0.5px">5G/4G</div>
<div class="arr" style="left:603px;top:191.5px;font-size:22px">超短波</div>
<div class="arr" style="left:593.5px;top:368.5px;font-size:22px">北斗卫星</div>
<div class="arr" style="left:600.5px;top:409px;font-size:20.8px">NB-IOT</div>

<!-- protocol box -->
<div class="a" style="left:557.5px;top:237.5px;width:172px;height:115px;background:#f3f3f3;border-radius:6px"></div>
<div class="a" style="left:557.5px;top:243.5px;width:172px;text-align:center;font-size:20px;font-weight:bold;color:#111;line-height:26.2px;white-space:nowrap;-webkit-text-stroke:0.35px #111">水文<span class="sl">/</span>水资源<span class="sl">/</span>环<br>保<span class="sl">/</span>Modbus<span class="sl">/</span><br>MQTT<span class="sl">/</span>其他行业<br>通信规约</div>

<!-- platforms -->
<div class="a" style="left:738px;top:131px;width:153px;height:329px;background:#2b63de"></div>
<div class="plat" style="top:139.5px;height:40.5px;line-height:35.5px;font-size:23.4px;text-indent:2px">水文平台</div>
<div class="plat" style="top:229.5px;height:41px;line-height:36px;font-size:23.6px">水资源平台</div>
<div class="plat" style="top:322.5px;height:39.5px;line-height:37px;font-size:18.8px;text-indent:2px">环保监管平台</div>
<div class="plat" style="top:413px;height:40.5px;line-height:36.5px;font-size:23.4px;text-indent:2px">物联网平台</div>

</body></html>
